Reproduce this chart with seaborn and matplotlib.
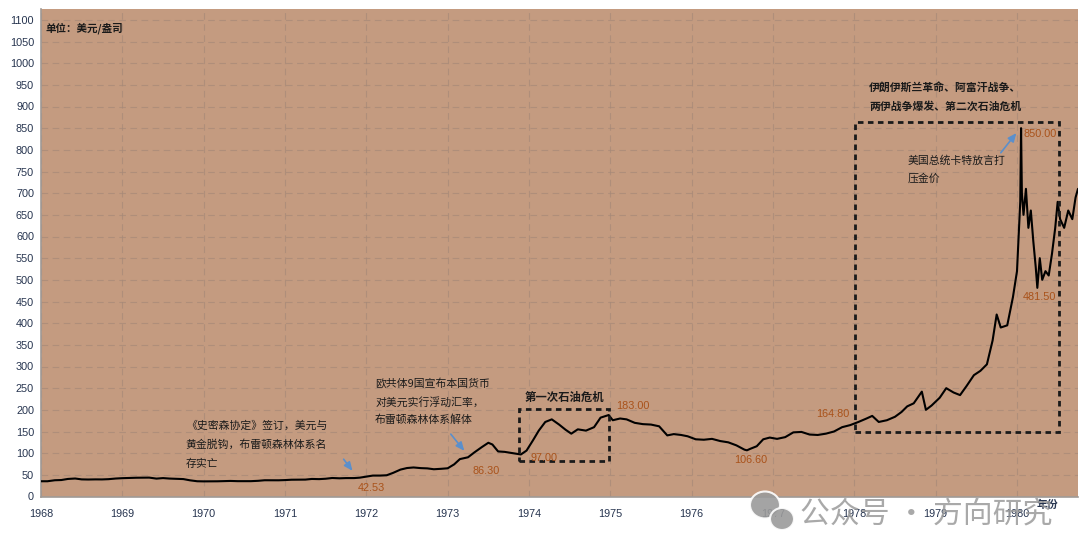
import matplotlib
matplotlib.use("Agg")
import matplotlib.pyplot as plt
import seaborn as sns
import pandas as pd
from matplotlib.patches import Rectangle, Ellipse

# ---------------- data ----------------
t = [
    1968.00, 1968.08, 1968.17, 1968.25, 1968.33, 1968.42, 1968.50, 1968.58, 1968.67, 1968.75, 1968.83, 1968.92,
    1969.00, 1969.08, 1969.17, 1969.25, 1969.33, 1969.42, 1969.50, 1969.58, 1969.67, 1969.75, 1969.83, 1969.92,
    1970.00, 1970.08, 1970.17, 1970.25, 1970.33, 1970.42, 1970.50, 1970.58, 1970.67, 1970.75, 1970.83, 1970.92,
    1971.00, 1971.08, 1971.17, 1971.25, 1971.33, 1971.42, 1971.50, 1971.58, 1971.67, 1971.75, 1971.85, 1971.92,
    1972.00, 1972.08, 1972.17, 1972.25, 1972.33, 1972.42, 1972.50, 1972.58, 1972.67, 1972.75, 1972.83, 1972.92,
    1973.00, 1973.08, 1973.15, 1973.25, 1973.33, 1973.42, 1973.50, 1973.55, 1973.62, 1973.70, 1973.80, 1973.90,
    1973.97, 1974.05, 1974.12, 1974.20, 1974.28, 1974.37, 1974.45, 1974.52, 1974.60, 1974.70, 1974.80, 1974.88,
    1974.98, 1975.03, 1975.12, 1975.20, 1975.30, 1975.40, 1975.50, 1975.60, 1975.70, 1975.78, 1975.87, 1975.95,
    1976.05, 1976.15, 1976.25, 1976.35, 1976.45, 1976.55, 1976.65, 1976.68, 1976.72, 1976.80, 1976.88, 1976.96,
    1977.05, 1977.15, 1977.25, 1977.35, 1977.45, 1977.55, 1977.65, 1977.75, 1977.85, 1977.95,
    1978.05, 1978.15, 1978.22, 1978.30, 1978.40, 1978.50, 1978.58, 1978.65, 1978.73, 1978.83, 1978.88, 1978.95,
    1979.05, 1979.13, 1979.22, 1979.30, 1979.38, 1979.47, 1979.55, 1979.63, 1979.70, 1979.75, 1979.80, 1979.88,
    1979.95, 1980.00, 1980.02, 1980.04, 1980.05, 1980.06, 1980.08, 1980.11, 1980.14, 1980.17, 1980.20, 1980.23,
    1980.25, 1980.28, 1980.31, 1980.35, 1980.39, 1980.43, 1980.47, 1980.50, 1980.53, 1980.58, 1980.63, 1980.68,
    1980.72, 1980.75,
]
price = [
    35.2, 35.2, 37.5, 38.0, 40.5, 41.5, 39.5, 39.2, 39.5, 39.4, 40.0, 41.5,
    42.3, 42.8, 43.3, 43.5, 43.6, 41.3, 42.5, 41.4, 40.8, 40.2, 37.4, 35.2,
    34.9, 35.0, 35.1, 35.6, 35.9, 35.4, 35.3, 35.4, 36.2, 37.5, 37.4, 37.4,
    37.9, 38.7, 38.9, 39.0, 40.5, 40.1, 41.0, 42.7, 42.0, 42.5, 42.53, 43.5,
    45.8, 48.3, 48.3, 49.0, 54.6, 62.1, 65.7, 67.0, 65.5, 64.9, 62.9, 63.9,
    65.1, 74.2, 86.3, 90.5, 102.0, 114.0, 124.0, 120.0, 104.0, 103.0, 100.0, 97.0,
    106.0, 130.0, 152.0, 172.0, 178.0, 166.0, 154.0, 145.0, 155.0, 152.0, 160.0, 182.0,
    188.0, 176.0, 180.0, 178.0, 170.0, 167.0, 166.0, 162.0, 141.0, 144.0, 142.0, 139.0,
    132.0, 131.0, 133.0, 128.0, 125.0, 118.0, 108.0, 106.6, 110.0, 116.0, 132.0, 136.0,
    133.0, 137.0, 148.0, 149.0, 143.0, 142.0, 145.0, 150.0, 160.0, 164.8,
    172.0, 180.0, 186.0, 172.0, 176.0, 184.0, 195.0, 208.0, 215.0, 242.0, 200.0, 210.0,
    228.0, 250.0, 240.0, 234.0, 255.0, 280.0, 290.0, 305.0, 360.0, 420.0, 390.0, 395.0,
    460.0, 520.0, 600.0, 680.0, 850.0, 700.0, 650.0, 710.0, 620.0, 660.0, 590.0, 530.0,
    481.5, 550.0, 500.0, 520.0, 510.0, 560.0, 620.0, 680.0, 640.0, 620.0, 660.0, 640.0,
    690.0, 710.0,
]

years = list(range(1968, 1981))
year_labels = [str(y) for y in years]
y_ticks = list(range(0, 1101, 50))

point_values = [42.53, 86.30, 97.00, 183.00, 106.60, 164.80, 850.00, 481.50]

unit_text = "单位：美元/盎司"
note_smithsonian = ["《史密森协定》签订，美元与", "黄金脱钩，布雷顿森林体系名", "存实亡"]
note_float = ["欧共体9国宣布本国货币", "对美元实行浮动汇率，", "布雷顿森林体系解体"]
note_oil1 = "第一次石油危机"
note_oil2 = ["伊朗伊斯兰革命、阿富汗战争、", "两伊战争爆发、第二次石油危机"]
note_carter = ["美国总统卡特放言打", "压金价"]
x_title = "年份"
watermark = "公众号 · 方向研究"

# ---------------- style ----------------
sns.set_style("white")
plt.rcParams["font.family"] = ["Liberation Sans", "Noto Sans CJK SC", "DejaVu Sans"]
CJK = ["Noto Sans CJK SC", "DejaVu Sans"]

BG = "#C49B80"
GRID = "#A58878"
LABEL_C = "#A9521A"
ARROW_C = "#5B8FCB"
TICK_C = "#26344F"

W, H = 1080, 557
fig = plt.figure(figsize=(W / 100, H / 100), dpi=100)
fig.patch.set_facecolor("white")
ax = fig.add_axes([41 / W, 1 - 496.5 / H, (1078 - 41) / W, (496.5 - 9) / H])
ax.set_facecolor(BG)

df = pd.DataFrame({"t": t, "price": price})
sns.lineplot(data=df, x="t", y="price", ax=ax, color="black", lw=1.5,
             estimator=None, sort=False, zorder=5)

ax.set_xlim(1968, 1980.75)
ax.set_ylim(0, 1125)
ax.set_xticks(years)
ax.set_xticklabels(year_labels)
ax.set_yticks(y_ticks)
ax.set_yticklabels([str(v) for v in y_ticks])
ax.set_xlabel("")
ax.set_ylabel("")

ax.grid(True, axis="both", color=GRID, linestyle=(0, (6, 4)), lw=0.8, alpha=0.65)
ax.set_axisbelow(True)
ax.tick_params(axis="x", direction="in", length=3, width=0.8, color="#7A6A60",
               pad=9, labelsize=7.8, labelcolor=TICK_C)
ax.tick_params(axis="y", length=0, pad=5, labelsize=7.8, labelcolor=TICK_C)
for s in ["top", "right"]:
    ax.spines[s].set_visible(False)
for s in ["left", "bottom"]:
    ax.spines[s].set_color("#A09A96")
    ax.spines[s].set_linewidth(1.2)

# unit label
ax.text(1968.06, 1081, unit_text, family=CJK, fontsize=7.6, fontweight="bold",
        color="#1A1A1A", ha="left", va="center")

# multi-line notes
def lines(x, ys, texts, bold=False, size=7.8):
    for yy, tx in zip(ys, texts):
        ax.text(x, yy, tx, family=CJK, fontsize=size, color="#1A1A1A",
                fontweight="bold" if bold else "normal", ha="left", va="center", zorder=6)

lines(1969.78, [162.7, 118.8, 75.0], note_smithsonian)
lines(1972.107, [262, 218, 176.6], note_float)
lines(1973.95, [229.7], [note_oil1], bold=True, size=8.2)
lines(1978.18, [943, 901.4], note_oil2, bold=True)
lines(1978.65, [774.5, 733], note_carter)

ax.text(1980.38, -20, x_title, family=CJK, fontsize=7.8, fontweight="bold",
        color=TICK_C, ha="center", va="center", clip_on=False)

# value labels
lbl_pos = [(1972.06, 19.6, "center"), (1973.47, 58.9, "center"), (1974.18, 88.9, "center"),
           (1975.28, 208.9, "center"), (1976.73, 84.3, "center"), (1977.74, 190.4, "center"),
           (1980.074, 837, "left"), (1980.28, 460.5, "center")]
for v, (xx, yy, ha) in zip(point_values, lbl_pos):
    ax.text(xx, yy, f"{v:.2f}", fontsize=7.8, color=LABEL_C, ha=ha, va="center", zorder=7)

# arrows
arrow_kw = dict(arrowstyle="-|>,head_length=0.5,head_width=0.22", color=ARROW_C, lw=1.2)
for (x0, y0), (x1, y1) in [((1971.70, 91.2), (1971.85, 54.2)),
                           ((1973.017, 148.9), (1973.226, 100.4)),
                           ((1979.78, 788.3), (1980.013, 843.7))]:
    ax.annotate("", xy=(x1, y1), xytext=(x0, y0), arrowprops=arrow_kw, zorder=7)

# dashed boxes
for (x0, x1, y0, y1) in [(1973.877, 1974.984, 82, 202), (1978.01, 1980.517, 149, 864.5)]:
    ax.add_patch(Rectangle((x0, y0), x1 - x0, y1 - y0, fill=False, edgecolor="#1A1A1A",
                           lw=2.0, linestyle=(0, (2, 1.6)), zorder=6))

# watermark
fig.text(800 / W, 1 - 514 / H, watermark, family=CJK, fontsize=21.5, color="#9A9A9A",
         alpha=0.85, ha="left", va="center")
fig.patches.append(Ellipse((765 / W, 1 - 505 / H), 30 / W, 27 / H, transform=fig.transFigure,
                           facecolor="#9A9A9A", edgecolor="white", lw=1.5, alpha=0.9))
fig.patches.append(Ellipse((782 / W, 1 - 519 / H), 24 / W, 22 / H, transform=fig.transFigure,
                           facecolor="#9A9A9A", edgecolor="white", lw=1.5, alpha=0.9))

fig.savefig("out.png", dpi=100, facecolor="white")
